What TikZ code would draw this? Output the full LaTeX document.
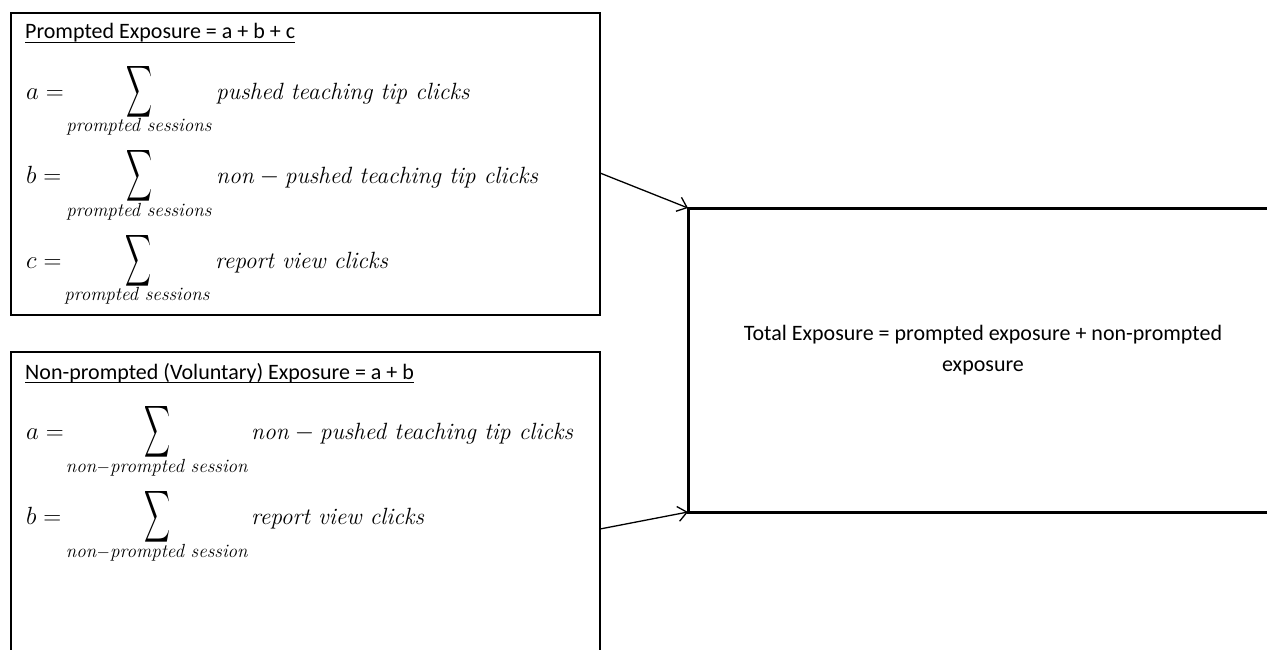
\documentclass[tikz,border=0pt]{standalone}
\usepackage{fontspec}
\setsansfont{Carlito}
\usepackage{graphicx}
\usetikzlibrary{arrows.meta}

\tikzset{
  panel/.style={draw=black, line width=2.8pt, fill=white, inner sep=0pt, outer sep=0pt, anchor=north west},
  heading/.style={font=\sffamily\fontsize{22}{26}\selectfont, anchor=base west, inner sep=0pt},
  lhs/.style={font=\fontsize{24}{28}\selectfont, anchor=base west, inner sep=0pt},
  sigma/.style={inner sep=0pt},
  limits/.style={font=\fontsize{19}{22}\selectfont, anchor=base, inner sep=0pt},
  term/.style={font=\fontsize{23.5}{28}\selectfont, anchor=base west, inner sep=0pt},
  rule/.style={line width=1.1pt},
  link/.style={line width=1.3pt, -{Straight Barb[length=9pt, width=15pt]}},
  summary/.style={font=\sffamily\fontsize{22}{31}\selectfont, align=center, inner sep=0pt},
}
\newcommand{\bigsum}{\resizebox{26pt}{38pt}{$\displaystyle\sum$}}
\newcommand{\nonminus}{\textit{non}${}-{}$}

\begin{document}
\begin{tikzpicture}[x=1pt, y=-1pt]
  \useasboundingbox (0,0) rectangle (1267,650);
  \clip (0,0) rectangle (1267,650);

  % three panels
  \node[panel, minimum width=589pt, minimum height=302pt] (prompted) at (11,13) {};
  \node[panel, minimum width=589pt, minimum height=360pt] (voluntary) at (11,352) {};
  \node[panel, line width=3pt, minimum width=612pt, minimum height=304pt] (total) at (688,208) {};

  % prompted exposure
  \node[heading] (h1) at (25,39) {Prompted Exposure = a + b + c};
  \draw[rule] ([yshift=-3.5pt]h1.base west) -- ([yshift=-3.5pt]h1.base east);

  \node[lhs] (pa) at (26,100) {$a =$};
  \node[sigma] (psa) at (139,92) {\bigsum};
  \node[limits] (pla) at (139,132) {\textit{prompted sessions}};
  \node[term] (pta) at (216,100) {\textit{pushed teaching tip clicks}};

  \node[lhs] (pb) at (26,184) {$b =$};
  \node[sigma] (psb) at (139,176) {\bigsum};
  \node[limits] (plb) at (139,216) {\textit{prompted sessions}};
  \node[term] (ptb) at (216,184) {\nonminus\textit{pushed teaching tip clicks}};

  \node[lhs] (pc) at (26,268) {$c =$};
  \node[sigma] (psc) at (138,261) {\bigsum};
  \node[limits] (plc) at (137,300) {\textit{prompted sessions}};
  \node[term] (ptc) at (215,268) {\textit{report view clicks}};

  % non-prompted exposure
  \node[heading] (h2) at (25,379) {Non-prompted (Voluntary) Exposure = a + b};
  \draw[rule] ([yshift=-3.5pt]h2.base west) -- ([yshift=-3.5pt]h2.base east);

  \node[lhs] (va) at (26,439) {$a =$};
  \node[sigma] (vsa) at (157,432) {\bigsum};
  \node[limits] (vla) at (157,472) {\textit{non}$-$\textit{prompted session}};
  \node[term] (vta) at (251,439) {\nonminus\textit{pushed teaching tip clicks}};

  \node[lhs] (vb) at (26,524) {$b =$};
  \node[sigma] (vsb) at (157,517) {\bigsum};
  \node[limits] (vlb) at (157,557) {\textit{non}$-$\textit{prompted session}};
  \node[term] (vtb) at (251,524) {\textit{report view clicks}};

  % total exposure
  \node[summary] (tt) at (983,350) {Total Exposure = prompted exposure + non-prompted\\exposure};

  % connectors
  \coordinate (outp) at (600,173);
  \coordinate (outv) at (600,529);
  \draw[link] (outp) -- (total.north west);
  \draw[link] (outv) -- (total.south west);
\end{tikzpicture}
\end{document}
